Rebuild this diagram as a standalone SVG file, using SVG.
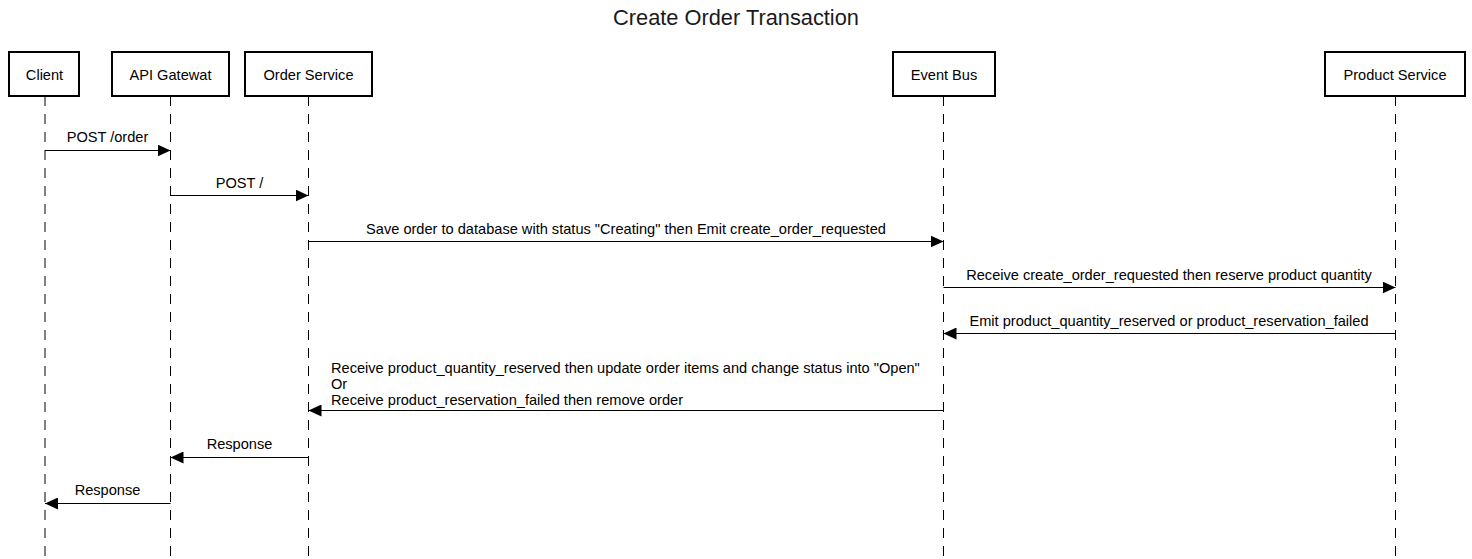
<svg xmlns="http://www.w3.org/2000/svg" width="1472" height="559" viewBox="0 0 1472 559">
<style>
text{font-family:"Liberation Sans",Arial,sans-serif;font-size:14.6px;fill:#000}
.title{font-size:21.8px;fill:#1a1a1a}
.box{fill:#fff;stroke:#000;stroke-width:2}
.life{stroke:#000;stroke-width:1;stroke-dasharray:10 8;fill:none}
.msg{stroke:#000;stroke-width:1;fill:none;marker-end:url(#ah)}
.c{text-anchor:middle}
</style>
<defs>
<marker id="ah" markerUnits="userSpaceOnUse" markerWidth="14" markerHeight="12" refX="13" refY="6" orient="auto">
<path d="M0,0 L13,6 L0,12 Z" fill="#000"/>
</marker>
</defs>
<rect width="1472" height="559" fill="#fff"/>
<text class="title c" x="736" y="25">Create Order Transaction</text>
<g id="client">
<line class="life" x1="45" y1="96" x2="45" y2="559"/>
<rect class="box" x="9" y="52" width="70" height="44"/>
<text class="c" x="44.5" y="80">Client</text>
</g>
<g id="api-gateway">
<line class="life" x1="170.5" y1="96" x2="170.5" y2="559"/>
<rect class="box" x="112" y="52" width="117" height="44"/>
<text class="c" x="170.5" y="80">API Gatewat</text>
</g>
<g id="order-service">
<line class="life" x1="308.5" y1="96" x2="308.5" y2="559"/>
<rect class="box" x="245" y="52" width="127" height="44"/>
<text class="c" x="308.5" y="80">Order Service</text>
</g>
<g id="event-bus">
<line class="life" x1="943.5" y1="96" x2="943.5" y2="559"/>
<rect class="box" x="893" y="52" width="102" height="44"/>
<text class="c" x="944" y="80">Event Bus</text>
</g>
<g id="product-service">
<line class="life" x1="1395.5" y1="96" x2="1395.5" y2="559"/>
<rect class="box" x="1325" y="52" width="140" height="44"/>
<text class="c" x="1395" y="80">Product Service</text>
</g>
<g id="connectors">
<line class="msg" x1="45" y1="150.5" x2="170.5" y2="150.5"/>
<text class="c" x="107.5" y="142">POST /order</text>
<line class="msg" x1="170.5" y1="195.5" x2="308.5" y2="195.5"/>
<text class="c" x="239.5" y="188">POST /</text>
<line class="msg" x1="308.5" y1="241.5" x2="943.5" y2="241.5"/>
<text class="c" x="626" y="234">Save order to database with status "Creating" then Emit create_order_requested</text>
<line class="msg" x1="943.5" y1="287.5" x2="1395.5" y2="287.5"/>
<text class="c" x="1169" y="280">Receive create_order_requested then reserve product quantity</text>
<line class="msg" x1="1395.5" y1="333.5" x2="943.5" y2="333.5"/>
<text class="c" x="1169" y="326">Emit product_quantity_reserved or product_reservation_failed</text>
<line class="msg" x1="943.5" y1="410.5" x2="308.5" y2="410.5"/>
<text x="331" y="373">Receive product_quantity_reserved then update order items and change status into "Open"</text>
<text x="331" y="389">Or</text>
<text x="331" y="405">Receive product_reservation_failed then remove order</text>
<line class="msg" x1="308.5" y1="457.5" x2="170.5" y2="457.5"/>
<text class="c" x="239.5" y="449">Response</text>
<line class="msg" x1="170.5" y1="503.5" x2="45" y2="503.5"/>
<text class="c" x="107.5" y="495">Response</text>
</g>
</svg>
